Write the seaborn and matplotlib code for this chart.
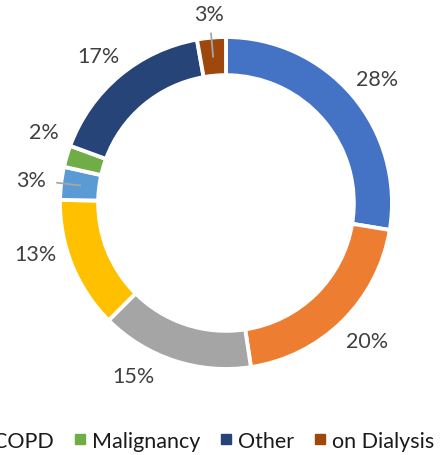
import numpy as np
import matplotlib
matplotlib.use("Agg")
import matplotlib.pyplot as plt
from matplotlib.lines import Line2D
import seaborn as sns

# ---- data ----
categories = ["Cardiovascular", "Diabetes", "Hypertension", "Stroke",
              "COPD", "Malignancy", "Other", "on Dialysis"]
values = [27.6, 20.0, 14.9, 12.8, 3.2, 2.1, 16.6, 2.8]
labels = ["28%", "20%", "15%", "13%", "3%", "2%", "17%", "3%"]
colors = ["#4472C4", "#ED7D31", "#A5A5A5", "#FFC000",
          "#5B9BD5", "#70AD47", "#264478", "#9E480E"]
legend_items = ["COPD", "Malignancy", "Other", "on Dialysis"]
# label placement tweaks (degrees / radius) and leader-line flags
label_angle_shift = [-1, 1, -10, -7, 0, -5, 1, 0]
label_radius = [1.18, 1.19, 1.18, 1.19, 1.18, 1.18, 1.17, 1.14]
leader = [False, False, False, False, True, False, False, True]

sns.set_theme(style="white")
plt.rcParams['font.family'] = ['Lato', 'DejaVu Sans']

W, H = 440, 456
fig = plt.figure(figsize=(W / 100, H / 100), dpi=100)
ax = fig.add_axes([0, 0, 1, 1])

R_px = 166.0
cx, cy = 226.0, 456 - 204.0
wedges, _ = ax.pie(values, colors=colors, startangle=90, counterclock=False,
                   radius=1.0,
                   wedgeprops=dict(width=0.23, edgecolor="white", linewidth=2.8))
ax.set_aspect("auto")
ax.set_xlim(-cx / R_px, (W - cx) / R_px)
ax.set_ylim(-cy / R_px, (H - cy) / R_px)
ax.axis("off")

for w, lab, sh, r, ld in zip(wedges, labels, label_angle_shift, label_radius, leader):
    mid = np.deg2rad((w.theta1 + w.theta2) / 2 + sh)
    ax.text(r * np.cos(mid), r * np.sin(mid), lab, ha="center", va="center",
            fontsize=15.5, color="#404040")
    if ld:
        ax.plot([0.88 * np.cos(mid), 1.03 * np.cos(mid)],
                [0.88 * np.sin(mid), 1.03 * np.sin(mid)],
                color="#A6A6A6", lw=1.3, solid_capstyle="butt")

idx = [categories.index(c) for c in legend_items]
handles = [Line2D([0], [0], marker="s", linestyle="none", markersize=6.5,
                  markerfacecolor=colors[i], markeredgecolor=colors[i]) for i in idx]
fig.legend(handles, legend_items, loc="center right", ncol=len(legend_items),
           bbox_to_anchor=(434 / W, 14 / H), frameon=False, fontsize=15.5,
           handlelength=0.4, handletextpad=0.35, columnspacing=1.0,
           labelcolor="#1a1a1a", borderaxespad=0, borderpad=0)

fig.savefig("out.png", dpi=100)
